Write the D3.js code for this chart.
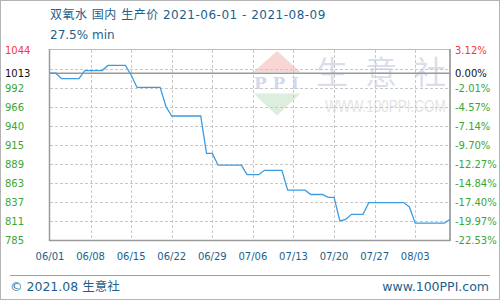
<!DOCTYPE html>
<html>
<head>
<meta charset="utf-8">
<script src="https://cdn.jsdelivr.net/npm/d3@7"></script>
<style>
  body { margin: 0; background: #fff; }
  svg { display: block; }
</style>
</head>
<body>
<svg id="chart"></svg>
<script>
// Chart values
const titleText = "双氧水 国内 生产价 2021-06-01 - 2021-08-09";
const subTitle = "27.5% min";
const startDate = "2021-06-01";
const endDate = "2021-08-09";
// daily price, 06/01 .. 08/09
const prices = [
    1012.4, 1012.4, 1005, 1005, 1005, 1005, 1016, 1016, 1016, 1016,
    1023, 1023, 1023, 1023, 1010, 993, 993, 993, 993, 993,
    967, 954, 954, 954, 954, 954, 954, 903, 903, 887,
    887, 887, 887, 887, 874, 874, 874, 880, 880, 880,
    880, 853, 853, 853, 853, 847, 847, 847, 843, 843,
    811, 813, 820, 820, 820, 836, 836, 836, 836, 836,
    836, 836, 830, 808, 808, 808, 808, 808, 808, 813
];
const basePrice = 1012.4;
const baseLabel = "1013";
const basePctLabel = "0.00%";
const yMin = 785, yMax = 1044;
// index 9 has a grid line but no label (it would collide with the base label)
const leftTickLabels = ["785", "811", "837", "863", "889", "915", "940", "966", "992", "", "1044"];
const rightTickLabels = ["-22.53%", "-19.97%", "-17.40%", "-14.84%", "-12.27%", "-9.70%", "-7.14%", "-4.57%", "-2.01%", "", "3.12%"];
const xTickLabels = ["06/01", "06/08", "06/15", "06/22", "06/29", "07/06", "07/13", "07/20", "07/27", "08/03"];

const config = {
    width: 500, height: 300,
    margin: { top: 50, right: 50, bottom: 60, left: 50 },
    blue: "#1d5f8c", green: "#3aa635", red: "#f23a3a",
    line: "#3d9be0", grid: "#c8c8c8", axis: "#9a9a9a"
};

const svg = d3.select("#chart")
    .attr("width", config.width)
    .attr("height", config.height);

const plotW = config.width - config.margin.left - config.margin.right;
const plotH = config.height - config.margin.top - config.margin.bottom;
const x0 = config.margin.left, y0 = config.margin.top;

// outer frame
svg.append("rect")
    .attr("x", 0.5).attr("y", 0.5)
    .attr("width", config.width - 1).attr("height", config.height - 1)
    .attr("fill", "#fff").attr("stroke", "#b4b4b4");

// title
svg.append("text")
    .attr("x", 50).attr("y", 19)
    .attr("font-family", "'DejaVu Sans', 'Noto Sans CJK SC', sans-serif")
    .attr("font-size", 12).attr("letter-spacing", 0.5)
    .attr("fill", config.blue)
    .text(titleText);
svg.append("text")
    .attr("x", 50).attr("y", 39)
    .attr("font-family", "'DejaVu Sans', sans-serif")
    .attr("font-size", 12)
    .attr("fill", config.blue)
    .text(subTitle);

// scales
const parse = d3.timeParse("%Y-%m-%d");
const dates = d3.timeDay.range(parse(startDate), d3.timeDay.offset(parse(endDate), 1));
const data = dates.map((d, i) => ({ date: d, value: prices[i] }));

const x = d3.scaleTime()
    .domain([parse(startDate), parse(endDate)])
    .range([x0, x0 + plotW]);
const y = d3.scaleLinear()
    .domain([yMin, yMax])
    .range([y0 + plotH, y0]);
const tickValues = leftTickLabels.map((d, i) => yMin + i * (yMax - yMin) / (leftTickLabels.length - 1));
const xTicks = xTickLabels.map((d, i) => d3.timeDay.offset(parse(startDate), i * 7));

// watermark
const wm = svg.append("g");
wm.append("path")
    .attr("d", "M277,51 L253.5,72 L300.5,72 Z")
    .attr("fill", "#f9d6d6");
wm.append("text")
    .attr("x", 254).attr("y", 88.5)
    .attr("textLength", 45).attr("lengthAdjust", "spacing")
    .attr("font-family", "'DejaVu Serif', serif").attr("font-weight", "bold")
    .attr("font-size", 17).attr("fill", "#d3d9ec")
    .text("PPI");
wm.append("path")
    .attr("d", "M253.5,93.5 L300.5,93.5 L277,115.5 Z")
    .attr("fill", "#ddeedd");
wm.selectAll(".wm-char")
    .data(["生", "意", "社"])
    .join("text")
    .attr("class", "wm-char")
    .attr("x", (d, i) => 316 + i * 49).attr("y", 84)
    .attr("font-family", "'Noto Sans CJK SC', sans-serif")
    .attr("font-size", 32)
    .attr("fill", "#d9dfea")
    .text(d => d);
wm.append("text")
    .attr("transform", "translate(325,111.5) scale(1,1.2)")
    .attr("font-family", "'Liberation Sans', sans-serif")
    .attr("font-size", 13.5).attr("fill", "#e4e4e4")
    .text("WWW.100PPI.COM");

// grid
svg.append("g").selectAll("line")
    .data(tickValues.slice(1, -1))
    .join("line")
    .attr("x1", x0).attr("x2", x0 + plotW)
    .attr("y1", d => Math.round(y(d)) + 0.5).attr("y2", d => Math.round(y(d)) + 0.5)
    .attr("stroke", config.grid).attr("stroke-dasharray", "3,2");
svg.append("g").selectAll("line")
    .data(xTicks.slice(1))
    .join("line")
    .attr("x1", d => Math.round(x(d)) + 0.5).attr("x2", d => Math.round(x(d)) + 0.5)
    .attr("y1", y0).attr("y2", y0 + plotH)
    .attr("stroke", config.grid).attr("stroke-dasharray", "3,2");

// plot borders
svg.append("line")
    .attr("x1", x0).attr("x2", x0 + plotW).attr("y1", y0 - 0.5).attr("y2", y0 - 0.5)
    .attr("stroke", "#bdbdbd");
svg.append("line")
    .attr("x1", x0 + plotW).attr("x2", x0 + plotW).attr("y1", y0 - 1).attr("y2", y0 + plotH + 1)
    .attr("stroke", "#a8a8a8").attr("stroke-width", 2);
svg.append("line")
    .attr("x1", x0 - 0.5).attr("x2", x0 - 0.5).attr("y1", y0 - 1).attr("y2", y0 + plotH + 1)
    .attr("stroke", config.axis).attr("stroke-width", 1.5);
svg.append("line")
    .attr("x1", x0 - 1).attr("x2", x0 + plotW).attr("y1", y0 + plotH + 0.5).attr("y2", y0 + plotH + 0.5)
    .attr("stroke", config.axis).attr("stroke-width", 1.5);

// base price line
svg.append("line")
    .attr("x1", x0).attr("x2", x0 + plotW)
    .attr("y1", y(basePrice)).attr("y2", y(basePrice))
    .attr("stroke", "#9a9a9a").attr("stroke-width", 1.5);

// price line
svg.append("path")
    .datum(data)
    .attr("fill", "none")
    .attr("stroke", config.line)
    .attr("stroke-width", 1.3)
    .attr("d", d3.line().x(d => x(d.date)).y(d => y(d.value)));

// y labels (skip the unlabelled grid line)
const labelFont = "'DejaVu Sans', sans-serif";
const ticks = tickValues.map((v, i) => ({ v, i, left: leftTickLabels[i], right: rightTickLabels[i] }))
    .filter(d => d.left !== "");
const tickColor = d => d.i === tickValues.length - 1 ? config.red : config.green;
svg.append("g").selectAll("text")
    .data(ticks)
    .join("text")
    .attr("x", 5).attr("y", d => y(d.v) + 3.5)
    .attr("font-family", labelFont).attr("font-size", 10)
    .attr("fill", tickColor)
    .text(d => d.left);
svg.append("g").selectAll("text")
    .data(ticks)
    .join("text")
    .attr("x", 455).attr("y", d => y(d.v) + 3.5)
    .attr("font-family", labelFont).attr("font-size", 10)
    .attr("fill", tickColor)
    .text(d => d.right);
svg.append("text")
    .attr("x", 5).attr("y", y(basePrice) + 3.5)
    .attr("font-family", labelFont).attr("font-size", 10)
    .attr("fill", "#111").text(baseLabel);
svg.append("text")
    .attr("x", 455).attr("y", y(basePrice) + 3.5)
    .attr("font-family", labelFont).attr("font-size", 10)
    .attr("fill", "#111").text(basePctLabel);

// x labels
svg.append("g").selectAll("text")
    .data(xTicks)
    .join("text")
    .attr("x", d => x(d)).attr("y", 260)
    .attr("text-anchor", "middle")
    .attr("font-family", labelFont).attr("font-size", 10)
    .attr("fill", config.blue)
    .text((d, i) => xTickLabels[i]);

// footer
svg.append("line")
    .attr("x1", 10).attr("x2", 490).attr("y1", 275.5).attr("y2", 275.5)
    .attr("stroke", "#a0a0a0");
svg.append("text")
    .attr("x", 10).attr("y", 291)
    .attr("font-family", "'DejaVu Sans', 'Noto Sans CJK SC', sans-serif")
    .attr("font-size", 12.5).attr("fill", config.blue)
    .text("© 2021.08 生意社");
svg.append("text")
    .attr("x", 489).attr("y", 291)
    .attr("text-anchor", "end")
    .attr("font-family", "'DejaVu Sans', sans-serif")
    .attr("font-size", 12.5).attr("fill", config.blue)
    .text("www.100PPI.com");
</script>
</body>
</html>
